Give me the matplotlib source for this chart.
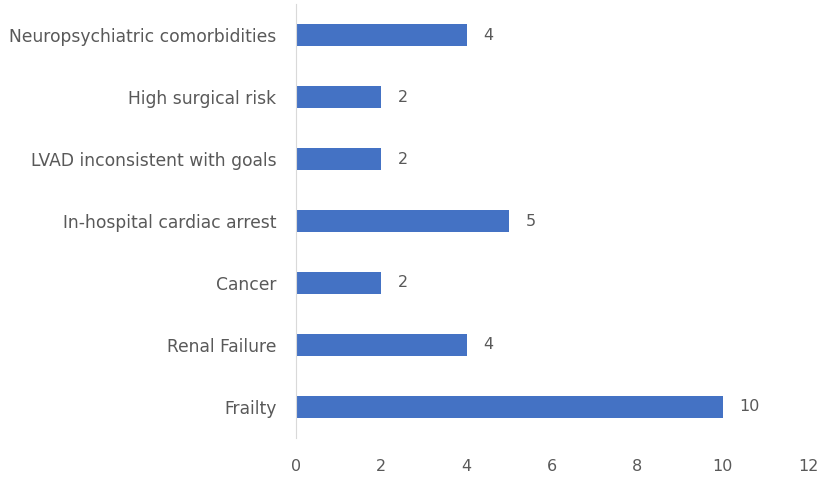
import matplotlib
matplotlib.use("Agg")
import matplotlib.pyplot as plt

# categories from bottom to top
categories = ["Frailty", "Renal Failure", "Cancer", "In-hospital cardiac arrest",
              "LVAD inconsistent with goals", "High surgical risk",
              "Neuropsychiatric comorbidities"]
counts = [10, 4, 2, 5, 2, 2, 4]
xticks = [0, 2, 4, 6, 8, 10, 12]

textcol = '#595959'
plt.rcParams['font.family'] = ['DejaVu Sans']

fig = plt.figure(figsize=(8.27, 4.78), dpi=100)
ax = fig.add_axes([0.358, 0.0837, 0.619, 0.9079])

ypos = list(range(len(categories)))
ax.barh(ypos, counts, height=0.34, color='#4472C4')
for y, v in zip(ypos, counts):
    ax.text(v + 0.38, y, str(v), va='center', ha='left', fontsize=11.5, color=textcol)

ax.set_xlim(0, 12)
ax.set_ylim(-0.5, len(categories) - 0.5)
ax.set_xticks(xticks)
ax.set_yticks(ypos)
ax.set_yticklabels(categories)
ax.tick_params(axis='both', length=0, colors=textcol)
ax.tick_params(axis='x', pad=15, labelsize=11.5)
ax.tick_params(axis='y', pad=14, labelsize=12.3)
for s in ['top', 'right', 'bottom']:
    ax.spines[s].set_visible(False)
ax.spines['left'].set_color('#d9d9d9')

fig.savefig("out.png", dpi=100)
